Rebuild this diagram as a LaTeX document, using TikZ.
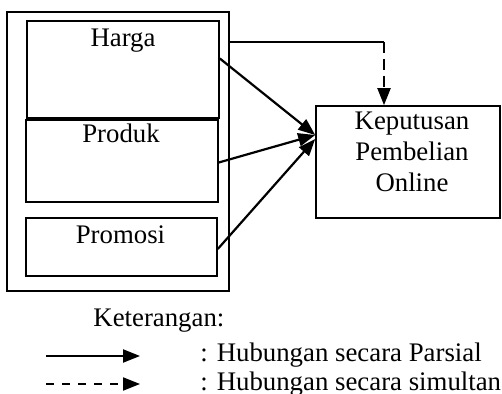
\documentclass[tikz,border=0pt]{standalone}
\usepackage{fontspec}
\setmainfont{Liberation Serif}
\usetikzlibrary{arrows.meta}
\begin{document}
\begin{tikzpicture}[x=0.5pt, y=-0.5pt,
  font=\fontsize{13.4}{15.5}\selectfont,
  box/.style={draw, line width=0.8pt, inner sep=0pt},
  txt/.style={inner sep=0pt, anchor=base},
  arr/.style={line width=1.1pt, -{Triangle[length=8.5pt, width=6.5pt]}},
  simarr/.style={line width=1pt, dash pattern=on 5.5pt off 3pt, -{Triangle[length=8.5pt, width=6.5pt]}},
  legdash/.style={line width=1pt, dash pattern=on 4pt off 4pt, -{Triangle[length=8.5pt, width=6.5pt]}}]
\useasboundingbox (0,0) rectangle (502,394);
% Boxes
\node[box, minimum width=111pt, minimum height=139.5pt] (outer) at (118,151.5) {};
\node[box, minimum width=96pt, minimum height=48.5pt] (harga) at (123,69.5) {};
\node[box, minimum width=96pt, minimum height=41pt] (produk) at (122,161) {};
\node[box, minimum width=95.5pt, minimum height=29pt] (promosi) at (121.5,247) {};
\node[box, minimum width=92pt, minimum height=56pt] (kep) at (408,162) {};
% Labels
\node[txt] (hargaT) at (123,47) {Harga};
\node[txt] (produkT) at (121,143) {Produk};
\node[txt] (promosiT) at (120.5,244) {Promosi};
\node[inner sep=0pt, align=center] (kepT) at (412,152) {Keputusan\\ Pembelian\\ Online};
% Partial arrows
\draw[arr] ([yshift=5.5pt]harga.east) -- ([yshift=13.5pt]kep.west);
\draw[arr] ([yshift=-0.75pt]produk.east) -- ([yshift=13.5pt]kep.west);
\draw[arr] ([yshift=-1pt]promosi.east) -- ([yshift=11.5pt]kep.west);
% Simultaneous arrow
\coordinate (turn) at (384,42);
\draw[line width=0.8pt] (outer.east |- turn) -- (turn);
\draw[simarr] (turn) -- (turn |- kep.north);
% Legend
\node[txt, anchor=base west] (ket) at (93,327) {Keterangan:};
\coordinate (p1) at (46,356);
\coordinate (p2) at (140,356);
\coordinate (s1) at (46,384);
\coordinate (s2) at (140,384);
\draw[arr] (p1) -- (p2);
\draw[legdash] (s1) -- (s2);
\node[txt, anchor=base west] (parsial) at (200,362) {: Hubungan secara Parsial};
\node[txt, anchor=base west] (simultan) at (200,390) {: Hubungan secara simultan};
\end{tikzpicture}
\end{document}
